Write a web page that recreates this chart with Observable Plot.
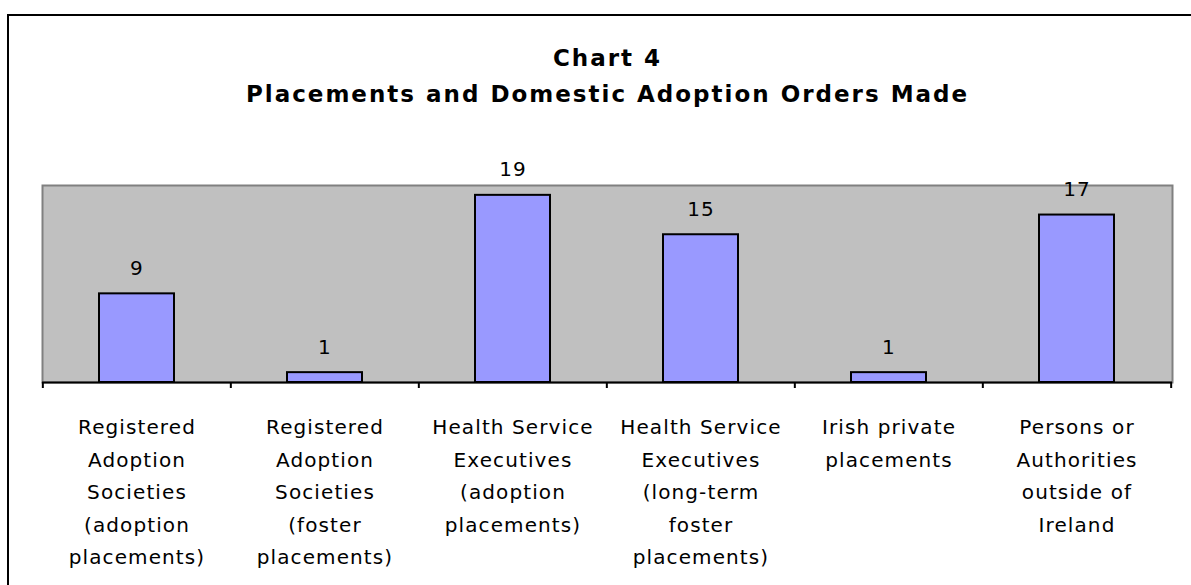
<!DOCTYPE html>
<html>
<head>
<meta charset="utf-8">
<script src="https://cdn.jsdelivr.net/npm/d3@7"></script>
<script src="https://cdn.jsdelivr.net/npm/@observablehq/plot@0.6"></script>
<style>
  html, body { margin: 0; padding: 0; background: #fff; }
  #wrap { position: relative; width: 1191px; height: 585px; overflow: hidden; }
  #border { position: absolute; left: 7px; top: 14px; width: 2000px; height: 2000px;
            border-left: 2px solid #000; border-top: 2px solid #000; pointer-events: none; }
  svg text { letter-spacing: 1.1px; }
  svg [font-weight="bold"] text, svg text[font-weight="bold"] { letter-spacing: 2px; }
</style>
</head>
<body>
<div id="wrap"><div id="border"></div></div>
<script>
const categories = [
  "Registered\nAdoption\nSocieties\n(adoption\nplacements)",
  "Registered\nAdoption\nSocieties\n(foster\nplacements)",
  "Health Service\nExecutives\n(adoption\nplacements)",
  "Health Service\nExecutives\n(long-term\nfoster\nplacements)",
  "Irish private\nplacements",
  "Persons or\nAuthorities\noutside of\nIreland"
];
const values = [9, 1, 19, 15, 1, 17];
const titleLines = ["Chart 4", "Placements and Domestic Adoption Orders Made"];

const data = categories.map((c, i) => ({category: c, value: values[i]}));

const W = 1191, H = 585;
const margin = {top: 185, right: 19, bottom: 203, left: 42};
const step = (W - margin.left - margin.right) / categories.length;

const chart = Plot.plot({
  width: W,
  height: H,
  marginTop: margin.top,
  marginRight: margin.right,
  marginBottom: margin.bottom,
  marginLeft: margin.left,
  style: {fontFamily: "'DejaVu Sans', Verdana, sans-serif", fontSize: "20px", background: "transparent", color: "#000", overflow: "visible"},
  x: {type: "band", domain: categories, paddingInner: 0.6, paddingOuter: 0.3, axis: null},
  y: {domain: [0, 20], axis: null},
  marks: [
    Plot.frame({fill: "#c0c0c0", stroke: "#808080", strokeWidth: 2}),
    Plot.barY(data, {x: "category", y: "value", fill: "#9999ff", stroke: "#000", strokeWidth: 2}),
    Plot.text(data, {x: "category", y: "value", text: d => String(d.value), lineAnchor: "bottom", dy: -19, fill: "#000", fontSize: 20}),
    Plot.ruleY([0], {stroke: "#000", strokeWidth: 2}),
    Plot.axisX(categories, {tickSize: 6, tickFormat: () => "", dx: -step / 2, label: null, stroke: "#000", strokeWidth: 2}),
    Plot.axisX([categories[categories.length - 1]], {tickSize: 6, tickFormat: () => "", dx: step / 2, label: null, stroke: "#000", strokeWidth: 2}),
    Plot.text(data, {x: "category", text: "category", frameAnchor: "bottom", lineAnchor: "top", dy: 28.8, lineHeight: 1.625, fill: "#000", fontSize: 20}),
    Plot.text([titleLines[0]], {frameAnchor: "top", x: null, text: d => d, lineAnchor: "bottom", dy: 65 - margin.top, fontWeight: "bold", fontSize: 23, fill: "#000"}),
    Plot.text([titleLines[1]], {frameAnchor: "top", x: null, text: d => d, lineAnchor: "bottom", dy: 101 - margin.top, fontWeight: "bold", fontSize: 23, fill: "#000"})
  ]
});
document.getElementById("wrap").insertBefore(chart, document.getElementById("border"));
chart.style.position = "absolute";
chart.style.left = "0px";
chart.style.top = "0px";
</script>
</body>
</html>
